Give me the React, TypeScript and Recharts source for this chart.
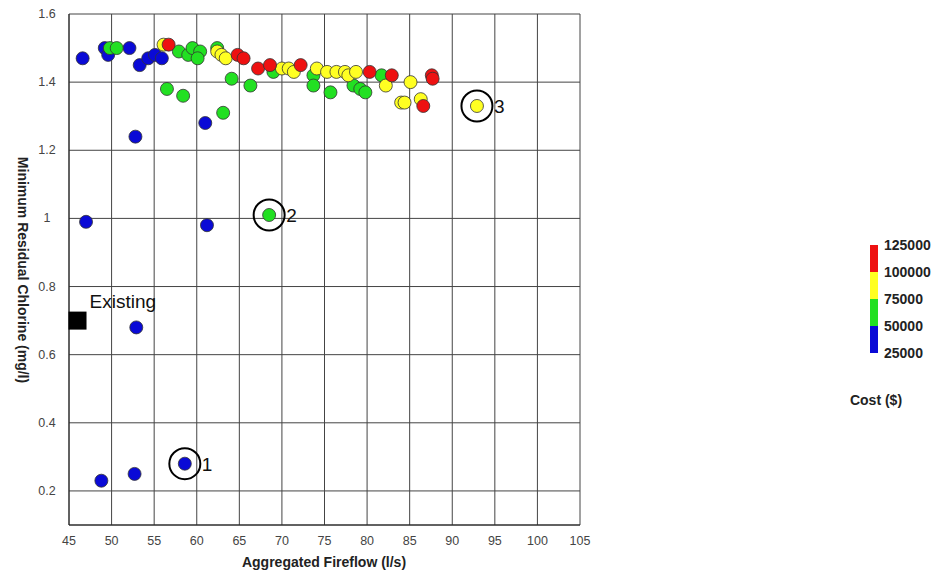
import React from "react"
import { CartesianGrid, Label, Scatter, ScatterChart, XAxis, YAxis } from "recharts"

// [fireflow (l/s), min residual chlorine (mg/l)] by cost band
const cost25to50: [number, number][] = [
  [46.6, 1.47], [49.2, 1.5], [49.6, 1.48], [52.1, 1.5], [53.3, 1.45], [54.3, 1.47],
  [55.1, 1.48], [55.9, 1.47], [52.8, 1.24], [61.0, 1.28], [47.0, 0.99], [61.2, 0.98],
  [52.9, 0.68], [48.8, 0.23], [52.7, 0.25], [58.6, 0.28],
]
const cost50to75: [number, number][] = [
  [49.8, 1.5], [50.6, 1.5], [57.9, 1.49], [59.0, 1.48], [59.5, 1.5], [60.4, 1.49],
  [60.1, 1.47], [62.4, 1.5], [64.1, 1.41], [66.3, 1.39], [69.0, 1.43], [56.5, 1.38],
  [58.4, 1.36], [63.1, 1.31], [68.5, 1.01], [73.7, 1.42], [73.7, 1.39], [75.7, 1.37],
  [78.4, 1.39], [79.2, 1.38], [79.8, 1.37], [81.7, 1.42],
]
const cost75to100: [number, number][] = [
  [56.1, 1.51], [62.4, 1.49], [62.9, 1.48], [63.4, 1.47], [70.0, 1.44], [70.8, 1.44],
  [71.4, 1.43], [74.1, 1.44], [75.3, 1.43], [76.4, 1.43], [77.4, 1.43], [77.8, 1.42],
  [78.7, 1.43], [82.2, 1.39], [85.1, 1.4], [84.0, 1.34], [84.4, 1.34], [86.3, 1.35],
  [92.9, 1.33],
]
const cost100to125: [number, number][] = [
  [56.7, 1.51], [64.8, 1.48], [65.5, 1.47], [67.2, 1.44], [68.6, 1.45], [72.2, 1.45],
  [80.3, 1.43], [82.9, 1.42], [87.6, 1.42], [87.7, 1.41], [86.6, 1.33],
]
const highlighted: [number, number, string][] = [
  [58.6, 0.28, "1"], [68.5, 1.01, "2"], [92.9, 1.33, "3"],
]
const existing: [number, number][] = [[46.0, 0.7]]

const xTicks = [45, 50, 55, 60, 65, 70, 75, 80, 85, 90, 95, 100, 105]
const yTicks = [0.2, 0.4, 0.6, 0.8, 1, 1.2, 1.4, 1.6]
const costTicks = ["125000", "100000", "75000", "50000", "25000"]
const bandColors = ["#ee1111", "#ffff22", "#22e022", "#0a0ad6"]

const FONT = "'Liberation Sans', Arial, sans-serif"

const toPoints = (rows: [number, number][]) => rows.map(([x, y]) => ({ x, y }))

const dot = (fill: string) => (props: any) => (
  <circle cx={props.cx} cy={props.cy} r={6.5} fill={fill} stroke="#333" strokeWidth={0.8} />
)

const ringShape = (props: any) => (
  <g>
    <circle cx={props.cx} cy={props.cy} r={15.5} fill="none" stroke="#000" strokeWidth={2} />
    <text x={props.cx + 17} y={props.cy + 7} fontSize={19} fontFamily={FONT} fill="#111">
      {props.payload.label}
    </text>
  </g>
)

const existingShape = (props: any) => (
  <g>
    <rect x={props.cx - 9} y={props.cy - 9} width={18} height={18} fill="#000" />
    <text x={props.cx + 12} y={props.cy - 13} fontSize={19} fontFamily={FONT} fill="#111">
      Existing
    </text>
  </g>
)

const XTick = (props: any) => (
  <text x={props.x} y={545} textAnchor="middle" fontSize={12.5} fontFamily={FONT} fill="#444">
    {props.payload.value}
  </text>
)

const YTick = (props: any) => (
  <text x={47} y={props.y + 4} textAnchor="middle" fontSize={12.5} fontFamily={FONT} fill="#444">
    {props.payload.value}
  </text>
)

export default function App() {
  return (
    <div style={{ position: "absolute", left: 0, top: 0, width: 938, height: 573, background: "#fff", fontFamily: FONT }}>
      <ScatterChart width={938} height={573} margin={{ top: 14, right: 358, bottom: 0, left: 0 }}>
        <CartesianGrid stroke="#444" strokeWidth={1} fill="#fff" />
        <XAxis
          type="number"
          dataKey="x"
          domain={[45, 105]}
          ticks={xTicks}
          height={48}
          tickLine={false}
          axisLine={{ stroke: "#222" }}
          tick={XTick}
          interval={0}
        >
          <Label
            content={() => (
              <text x={324} y={567} textAnchor="middle" fontSize={14} fontWeight="bold" fontFamily={FONT} fill="#222">
                Aggregated Fireflow (l/s)
              </text>
            )}
          />
        </XAxis>
        <YAxis
          type="number"
          dataKey="y"
          domain={[0.1, 1.6]}
          ticks={yTicks}
          width={69}
          tickLine={false}
          axisLine={{ stroke: "#222" }}
          tick={YTick}
          interval={0}
        >
          <Label
            content={() => (
              <text
                x={0}
                y={0}
                transform="translate(18 270) rotate(90)"
                textAnchor="middle"
                fontSize={14}
                fontWeight="bold"
                fontFamily={FONT}
                fill="#222"
              >
                Minimum Residual Chlorine (mg/l)
              </text>
            )}
          />
        </YAxis>
        <Scatter data={toPoints(cost25to50)} shape={dot(bandColors[3])} isAnimationActive={false} />
        <Scatter data={toPoints(cost50to75)} shape={dot(bandColors[2])} isAnimationActive={false} />
        <Scatter data={toPoints(cost75to100)} shape={dot(bandColors[1])} isAnimationActive={false} />
        <Scatter data={toPoints(cost100to125)} shape={dot(bandColors[0])} isAnimationActive={false} />
        <Scatter
          data={highlighted.map(([x, y, label]) => ({ x, y, label }))}
          shape={ringShape}
          isAnimationActive={false}
        />
        <Scatter data={toPoints(existing)} shape={existingShape} isAnimationActive={false} />
      </ScatterChart>
      {bandColors.map((c, i) => (
        <div
          key={c}
          style={{ position: "absolute", left: 870, top: 245 + i * 27, width: 8, height: 27, background: c }}
        />
      ))}
      {costTicks.map((t, i) => (
        <div
          key={t}
          style={{
            position: "absolute",
            left: 884,
            top: 245 + i * 27 - 9,
            fontSize: 14,
            fontWeight: "bold",
            color: "#222",
            lineHeight: "18px",
          }}
        >
          {t}
        </div>
      ))}
      <div
        style={{
          position: "absolute",
          left: 836,
          top: 391,
          width: 80,
          textAlign: "center",
          fontSize: 14,
          fontWeight: "bold",
          color: "#222",
          lineHeight: "18px",
        }}
      >
        Cost ($)
      </div>
    </div>
  )
}
